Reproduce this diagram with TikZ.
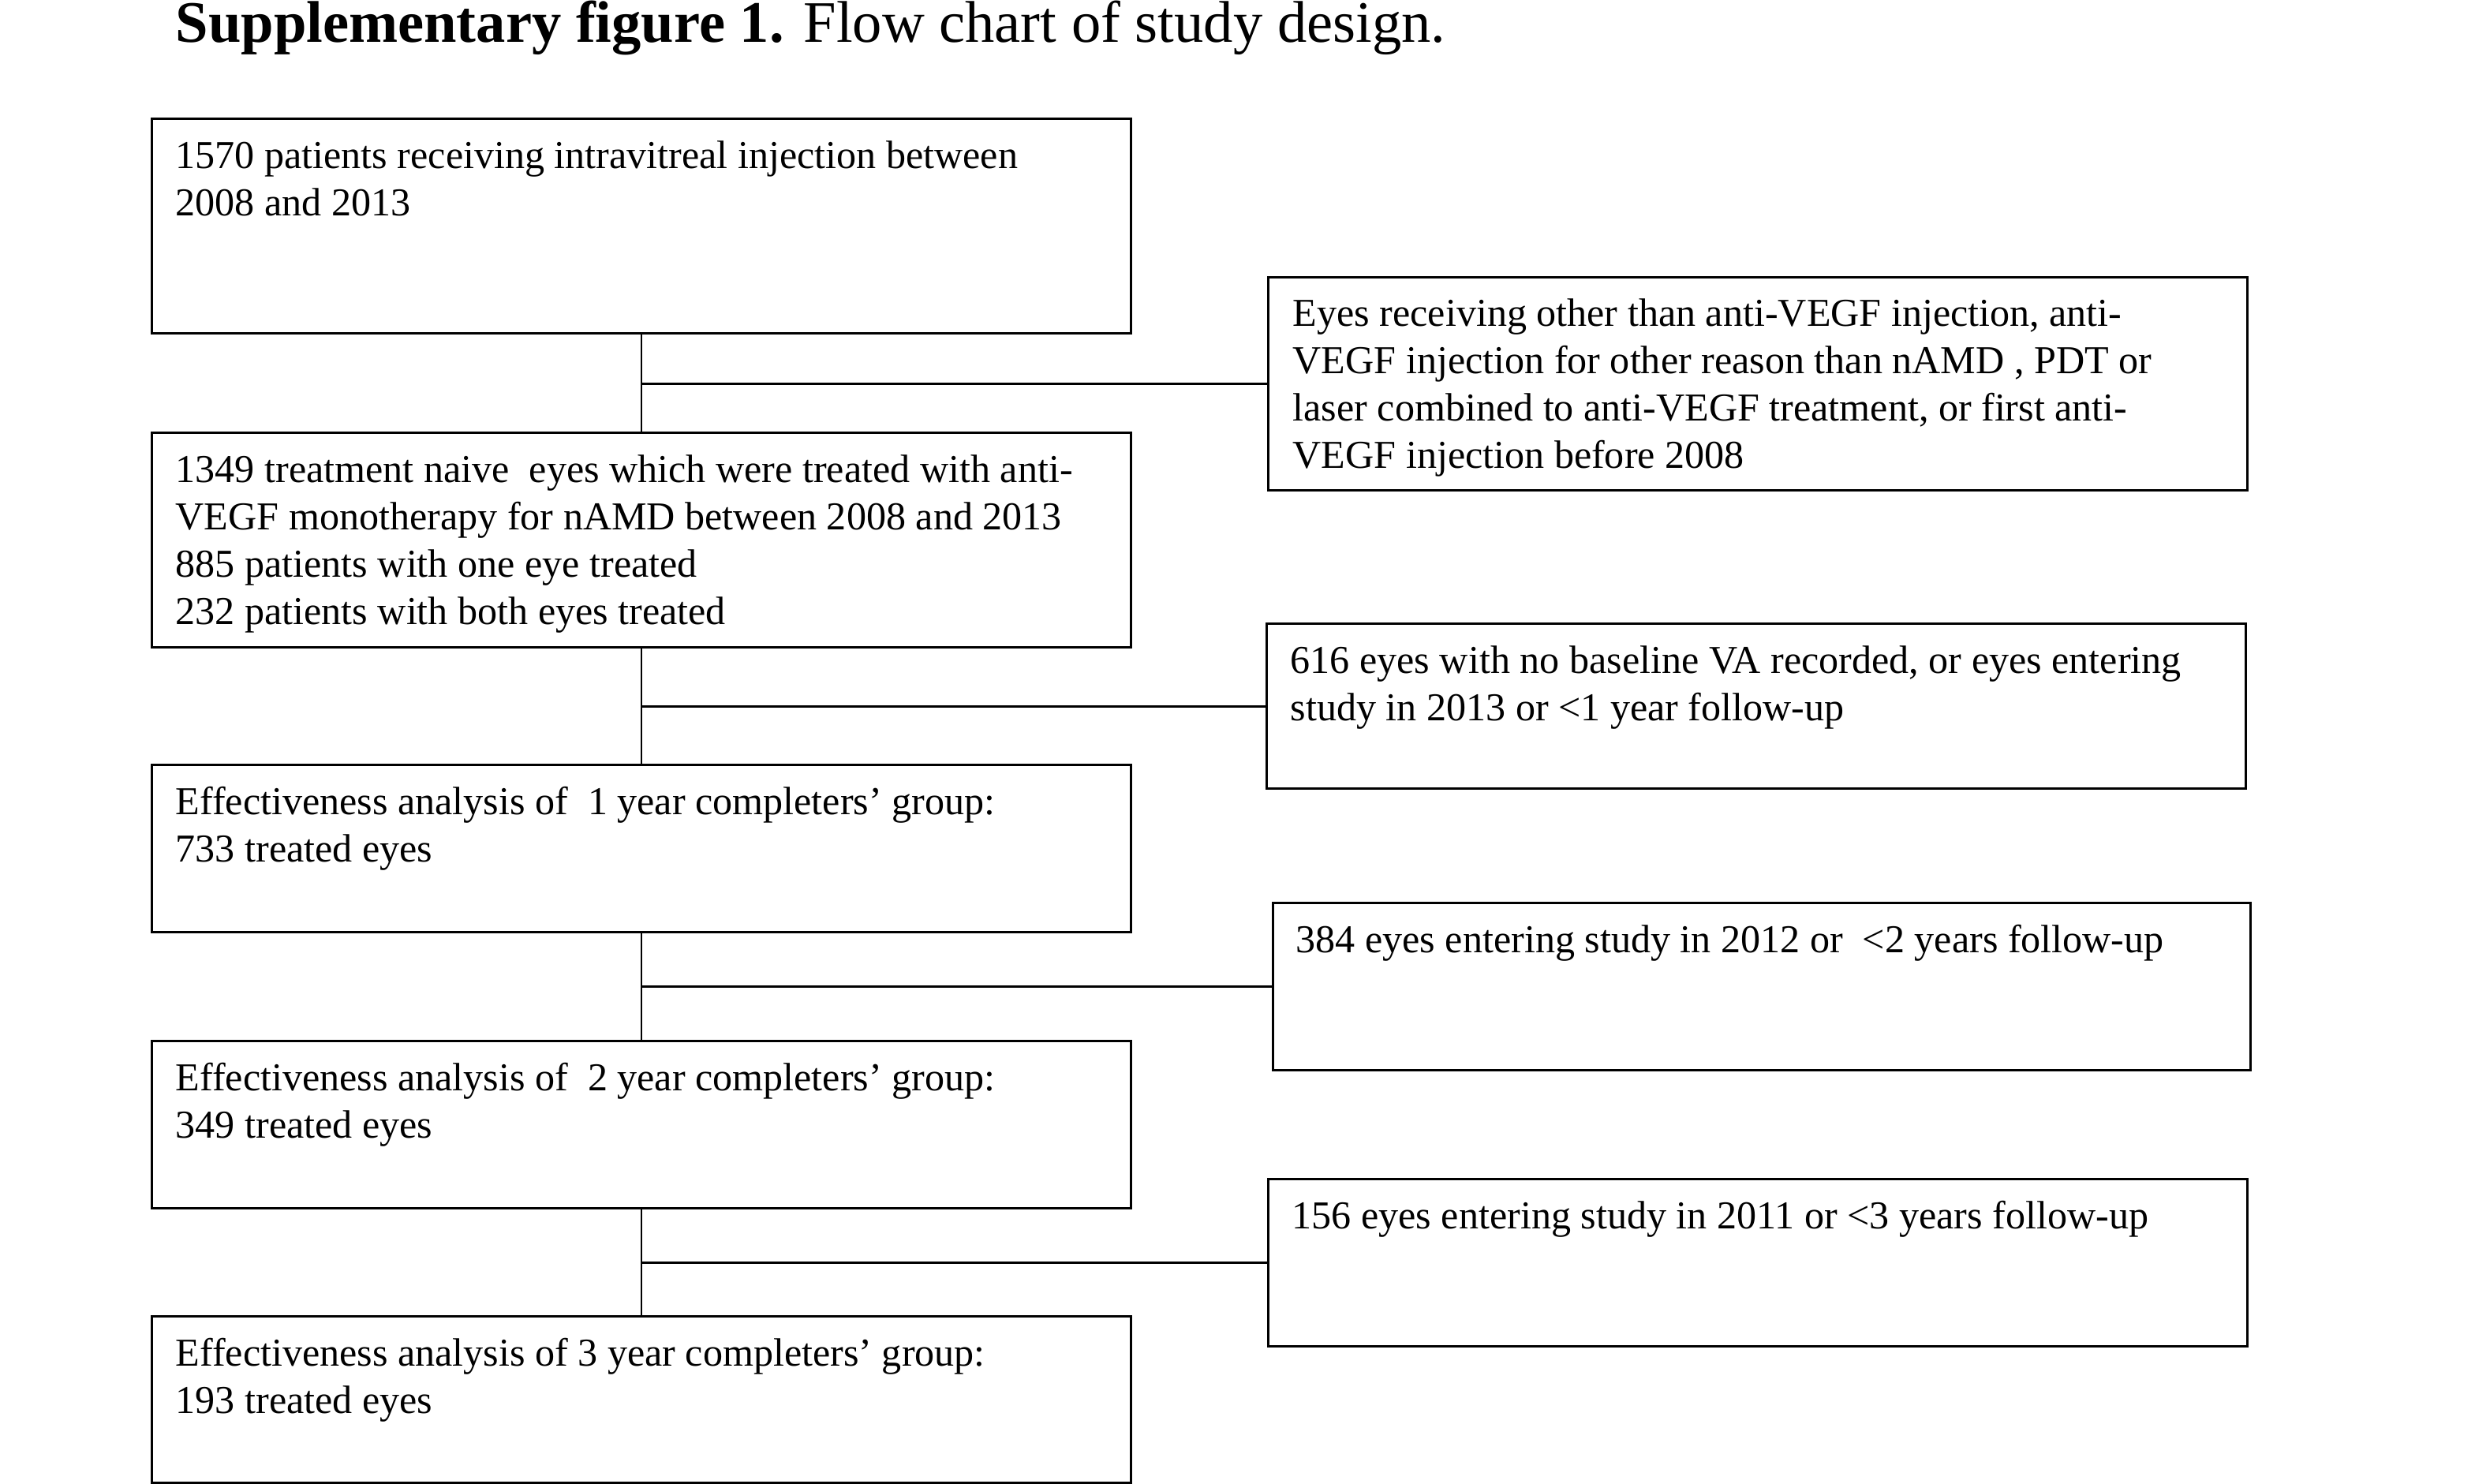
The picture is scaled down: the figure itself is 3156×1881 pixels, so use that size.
\documentclass[tikz,border=0pt]{standalone}
\usepackage{fontspec}
\setmainfont{Liberation Serif}
\newcommand{\boxtext}[1]{\parbox[t]{12cm}{\raggedright #1}}
\begin{document}
\begin{tikzpicture}[x=0.01cm,y=-0.01cm,
  box/.style={draw, line width=0.9pt, inner sep=0pt, anchor=north west, minimum width=12.4cm},
  txt/.style={anchor=base west, inner sep=0pt, font=\fontsize{14.25}{17.07}\selectfont},
  conn/.style={line width=0.6pt},
  hconn/.style={line width=0.8pt}]
\useasboundingbox[fill=white] (0,0) rectangle (3156,1881);
\node[anchor=base west, inner sep=0pt, font=\fontsize{21.2}{24}\selectfont] (title) at (222,53) {\textbf{Supplementary figure 1.} Flow chart of study design.};
% left column
\node[box, minimum height=2.72cm] (A) at (191,149) {};
\node[txt] (tA) at (222,213) {\boxtext{1570 patients receiving intravitreal injection between\\2008 and 2013}};
\node[box, minimum height=2.72cm] (C) at (191,547) {};
\node[txt] (tC) at (222,611) {\boxtext{1349 treatment naive\ \ eyes which were treated with anti-\\VEGF monotherapy for nAMD between 2008 and 2013\\885 patients with one eye treated\\232 patients with both eyes treated}};
\node[box, minimum height=2.12cm] (E) at (191,968) {};
\node[txt] (tE) at (222,1032) {\boxtext{Effectiveness analysis of\ \ 1 year completers’ group:\\733 treated eyes}};
\node[box, minimum height=2.12cm] (G) at (191,1318) {};
\node[txt] (tG) at (222,1382) {\boxtext{Effectiveness analysis of\ \ 2 year completers’ group:\\349 treated eyes}};
\node[box, minimum height=2.11cm] (I) at (191,1667) {};
\node[txt] (tI) at (222,1731) {\boxtext{Effectiveness analysis of 3 year completers’ group:\\193 treated eyes}};
% right column
\node[box, minimum height=2.70cm] (B) at (1606,350) {};
\node[txt] (tB) at (1638,413) {\boxtext{Eyes receiving other than anti-VEGF injection, anti-\\VEGF injection for other reason than nAMD , PDT or\\laser combined to anti-VEGF treatment, or first anti-\\VEGF injection before 2008}};
\node[box, minimum height=2.09cm] (D) at (1604,789) {};
\node[txt] (tD) at (1635,853) {\boxtext{616 eyes with no baseline VA recorded, or eyes entering\\study in 2013 or \textless1 year follow-up}};
\node[box, minimum height=2.12cm, minimum width=12.38cm] (F) at (1612,1143) {};
\node[txt] (tF) at (1642,1207) {384 eyes entering study in 2012 or\ \ \textless2 years follow-up};
\node[box, minimum height=2.12cm] (H) at (1606,1493) {};
\node[txt] (tH) at (1637,1557) {156 eyes entering study in 2011 or \textless3 years follow-up};
% connectors
\draw[conn] (A.south) -- (C.north);
\draw[conn] (C.south) -- (E.north);
\draw[conn] (E.south) -- (G.north);
\draw[conn] (G.south) -- (I.north);
\draw[hconn] (B.west) -- (B.west -| A.south);
\draw[hconn] (D.west) -- (D.west -| C.south);
\draw[hconn] (F.west) -- (F.west -| E.south);
\draw[hconn] (H.west) -- (H.west -| G.south);
\end{tikzpicture}
\end{document}
